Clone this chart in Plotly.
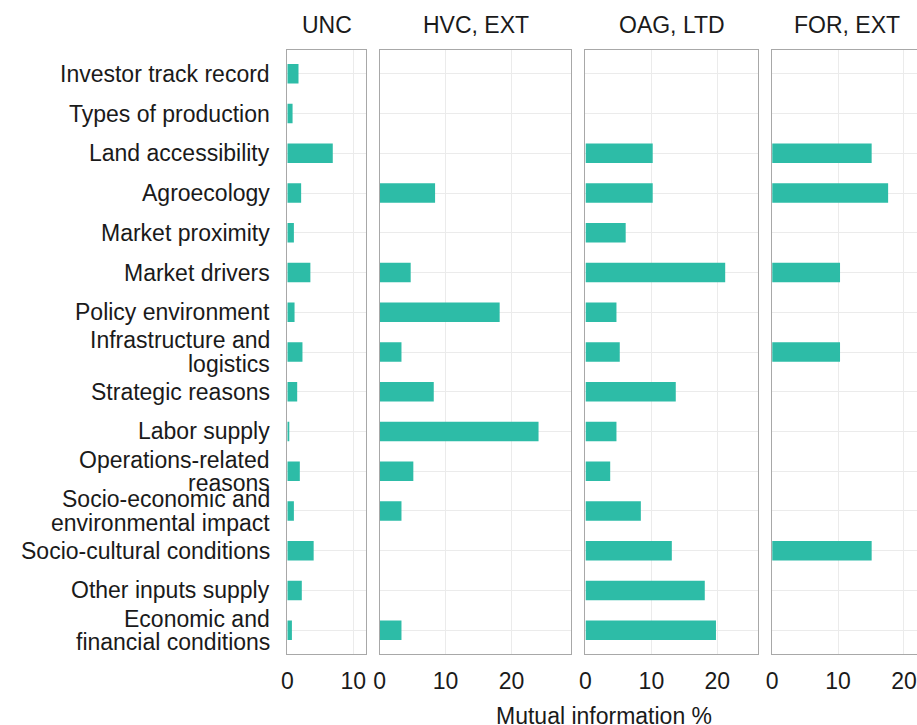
import plotly.graph_objects as go

# ---- data ----
categories = [
    "Investor track record", "Types of production", "Land accessibility",
    "Agroecology", "Market proximity", "Market drivers", "Policy environment",
    "Infrastructure and\nlogistics", "Strategic reasons", "Labor supply",
    "Operations-related\nreasons", "Socio-economic and\nenvironmental impact",
    "Socio-cultural conditions", "Other inputs supply",
    "Economic and\nfinancial conditions",
]
panels = ["UNC", "HVC, EXT", "OAG, LTD", "FOR, EXT"]
unc = [1.7, 0.8, 6.9, 2.1, 1.0, 3.5, 1.1, 2.3, 1.5, 0.3, 1.9, 1.0, 4.0, 2.2, 0.7]
hvc = [None, None, None, 8.4, None, 4.7, 18.2, 3.3, 8.2, 24.1, 5.1, 3.3, None, None, 3.3]
oag = [None, None, 10.2, 10.2, 6.1, 21.2, 4.7, 5.2, 13.7, 4.7, 3.75, 8.4, 13.1, 18.1, 19.8]
for_ext = [None, None, 15.1, 17.6, None, 10.3, None, 10.3, None, None, None, None, 15.1, None, None]
series = [unc, hvc, oag, for_ext]
x_title = "Mutual information %"

# ---- styling / layout ----
W, H = 917, 725
ML, MR, MT, MB = 287, 0, 50, 71
plot_w = W - ML - MR
FONT = "Liberation Sans, Arial, sans-serif"
FS = 23
BAR = "#2DBCA7"
BORDER = "#A8A8A8"
GRID = "#EBEBEB"
TXT = "#1A1A1A"
S = 6.59      # pixels per data unit (free space facets)
GAP = 14      # pixels between panels
EXPAND = 5    # additive expansion on the right

keys = [c.replace("\n", " ") for c in categories]

fig = go.Figure()
layout = dict(
    width=W, height=H, margin=dict(l=ML, r=MR, t=MT, b=MB),
    plot_bgcolor="white", paper_bgcolor="white", showlegend=False,
    font=dict(family=FONT, size=FS, color=TXT), bargap=0.5,
)

annotations = []
start_px = ML + 0.3
for i, (name, vals) in enumerate(zip(panels, series)):
    vmax = max(v for v in vals if v is not None)
    full_range = vmax + EXPAND
    end_px_full = start_px + full_range * S
    end_px = min(end_px_full, W - MR)
    rng = (end_px - start_px) / S
    d0 = (start_px - ML) / plot_w
    d1 = (end_px - ML) / plot_w
    sfx = "" if i == 0 else str(i + 1)
    fig.add_trace(go.Bar(
        x=vals, y=keys, orientation="h", width=0.49,
        marker=dict(color=BAR, line=dict(width=0)),
        xaxis="x" + sfx, yaxis="y" + sfx, hoverinfo="x+y",
    ))
    last = i == len(panels) - 1
    layout["xaxis" + sfx] = dict(
        domain=[d0, d1], range=[0, rng], anchor="y" + sfx,
        dtick=10, tick0=0, showgrid=True, gridcolor=GRID, gridwidth=1,
        zeroline=False, showline=True, linecolor=BORDER, linewidth=1.3,
        mirror=True, ticks="outside", ticklen=6, tickcolor="rgba(0,0,0,0)",
        tickfont=dict(size=FS, color=TXT, family=FONT),
    )
    layout["yaxis" + sfx] = dict(
        anchor="x" + sfx, domain=[0, 1], type="category",
        categoryorder="array", categoryarray=keys,
        range=[len(keys) - 0.4, -0.6], showticklabels=False,
        showgrid=True, gridcolor=GRID, gridwidth=1,
        zeroline=False, showline=True, linecolor=BORDER, linewidth=1.3,
        mirror=not last, ticks="",
    )
    if i > 0:
        layout["yaxis" + sfx]["matches"] = "y"
    # strip label centred over the full panel
    cx = ((start_px + end_px_full) / 2 - ML) / plot_w
    annotations.append(dict(
        text=name, xref="paper", yref="paper", x=cx, y=1, yshift=25,
        xanchor="center", yanchor="middle", showarrow=False,
        font=dict(size=FS, color=TXT, family=FONT),
    ))
    if i == 0:
        total_start = start_px
    total_end = end_px_full
    start_px = end_px_full + GAP

# category labels (line spacing like ggplot's)
for c, k in zip(categories, keys):
    lines = c.split("\n")
    n = len(lines)
    for j, ln in enumerate(lines):
        annotations.append(dict(
            text=ln, xref="paper", yref="y", x=0, y=k, xshift=-15,
            yshift=(n - 1) / 2 * 23.3 - j * 23.3,
            xanchor="right", yanchor="middle", showarrow=False,
            font=dict(size=FS, color=TXT, family=FONT),
        ))

# x-axis title centred over the panel area
annotations.append(dict(
    text=x_title, xref="paper", yref="paper",
    x=((total_start + total_end) / 2 - ML) / plot_w, y=0, yshift=-62,
    xanchor="center", yanchor="middle", showarrow=False,
    font=dict(size=FS, color=TXT, family=FONT),
))

layout["annotations"] = annotations
fig.update_layout(**layout)
fig.write_html(
    "out.html",
    config={"displayModeBar": False},
    post_script="document.body.style.margin='0';document.body.style.overflow='hidden';",
)
